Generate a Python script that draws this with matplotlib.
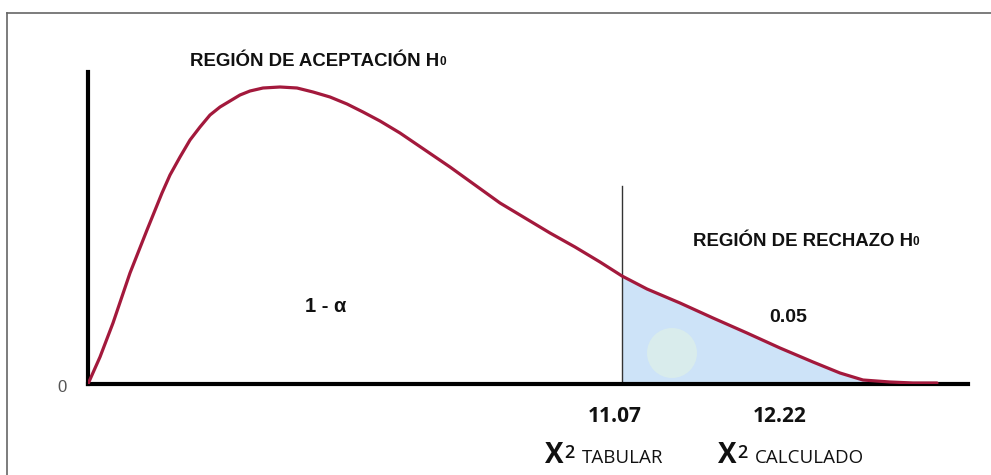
import matplotlib
matplotlib.use("Agg")
import matplotlib.pyplot as plt
from matplotlib.lines import Line2D
from matplotlib.patches import Circle

# curve (arbitrary units, origin at the axes corner)
curve_x = [0, 1.2, 2.5, 4.2, 5.9, 7.4, 8.2, 9.2, 10.2, 11.2, 12.2, 13.2, 14.2,
           15.2, 16.2, 17.5, 19.2, 20.9, 22.5, 24.2, 25.9, 27.5, 29.2, 31.2,
           33.7, 36.2, 38.7, 41.2, 43.7, 46.2, 48.7, 51.2, 53.4, 55.9, 59.2,
           62.5, 65.9, 69.2, 72.5, 75.2, 77.5, 80.2, 82.5, 84.9]
curve_y = [0, 2.7, 6.1, 11.1, 15.4, 19.1, 20.9, 22.7, 24.4, 25.7, 26.9, 27.7, 28.3,
           28.9, 29.3, 29.6, 29.7, 29.6, 29.2, 28.7, 28.0, 27.2, 26.3, 25.1,
           23.4, 21.7, 19.9, 18.1, 16.6, 15.1, 13.7, 12.2, 10.8, 9.5, 8.1,
           6.6, 5.1, 3.6, 2.2, 1.1, 0.4, 0.2, 0.1, 0.1]
critical_x = 53.4
critical_top = 19.8
alpha_label = "0.05"
tabular_value = "11.07"
calculado_value = "12.22"

RED = "#a3193c"
ARIAL = ["Liberation Sans", "DejaVu Sans"]
CAL = ["Open Sans", "DejaVu Sans"]
INK = "#111111"

fig = plt.figure(figsize=(9.91, 4.75), dpi=100)
ax = fig.add_axes([88 / 991, 91 / 475, 880 / 991, 312 / 475])
ax.set_xlim(0, 88)
ax.set_ylim(0, 31.2)

# shaded rejection region
tail_x = [x for x in curve_x if x >= critical_x]
tail_y = [y for x, y in zip(curve_x, curve_y) if x >= critical_x]
shade = ax.fill_between(tail_x, tail_y, 0, color="#cde3f8", lw=0, zorder=1)
glow = Circle((58.4, 3.1), 2.5, color="#d9ecec", lw=0, zorder=1.5)
ax.add_patch(glow)
glow.set_clip_path(shade.get_paths()[0], ax.transData)

ax.plot(curve_x, curve_y, color=RED, lw=2.3, solid_joinstyle="round",
        solid_capstyle="round", zorder=3)
ax.plot([critical_x, critical_x], [0, critical_top], color="#333333", lw=1.0, zorder=2)

for s in ["top", "right"]:
    ax.spines[s].set_visible(False)
for s in ["left", "bottom"]:
    ax.spines[s].set_linewidth(3)
    ax.spines[s].set_color("black")
ax.set_xticks([])
ax.set_yticks([])


def label_h0(x, y, txt):
    t = ax.text(x, y, txt, family=ARIAL, weight="bold", fontsize=13.4,
                color=INK, ha="left", va="center")
    ax.annotate("0", xy=(1, 0.12), xycoords=t, family=ARIAL, weight="bold",
                fontsize=8.5, color=INK, ha="left", va="bottom")


label_h0(10.2, 32.2, "REGIÓN DE ACEPTACIÓN H")
label_h0(60.5, 14.2, "REGIÓN DE RECHAZO H")

ax.text(23.8, 7.7, "1 - α", family=ARIAL, weight="bold", fontsize=14.5,
        color=INK, ha="center", va="center")
ax.text(70.0, 6.7, alpha_label, family=ARIAL, weight="bold", fontsize=14,
        color=INK, ha="center", va="center")
ax.text(-2.6, -0.4, "0", family=ARIAL, fontsize=12,
        color="#555555", ha="center", va="center")

ax.text(52.7, -3.2, tabular_value, family=CAL, weight="bold", fontsize=15,
        color=INK, ha="center", va="center")
ax.text(69.2, -3.2, calculado_value, family=CAL, weight="bold", fontsize=15,
        color=INK, ha="center", va="center")


def chi_label(x, y, word):
    t = ax.text(x, y, "X", family=CAL, weight="bold", fontsize=20,
                color=INK, ha="left", va="baseline")
    t2 = ax.annotate("2", xy=(1, 0.9), xycoords=t, xytext=(0.5, 0),
                     textcoords="offset points", family=CAL, weight="semibold",
                     fontsize=13, color=INK, ha="left", va="top")
    ax.annotate(word, xy=(1, y), xycoords=(t2, "data"), xytext=(5, 0),
                textcoords="offset points", family=CAL, fontsize=13.5,
                color=INK, ha="left", va="baseline")


chi_label(45.7, -7.9, "TABULAR")
chi_label(63.0, -7.9, "CALCULADO")

# frame of the original picture (left and top edges visible)
fig.add_artist(Line2D([7 / 991, 7 / 991], [0, 1 - 13 / 475], color="#666666", lw=1.2))
fig.add_artist(Line2D([7 / 991, 1], [1 - 13 / 475, 1 - 13 / 475], color="#666666", lw=1.2))

fig.savefig("out.png", dpi=100)
